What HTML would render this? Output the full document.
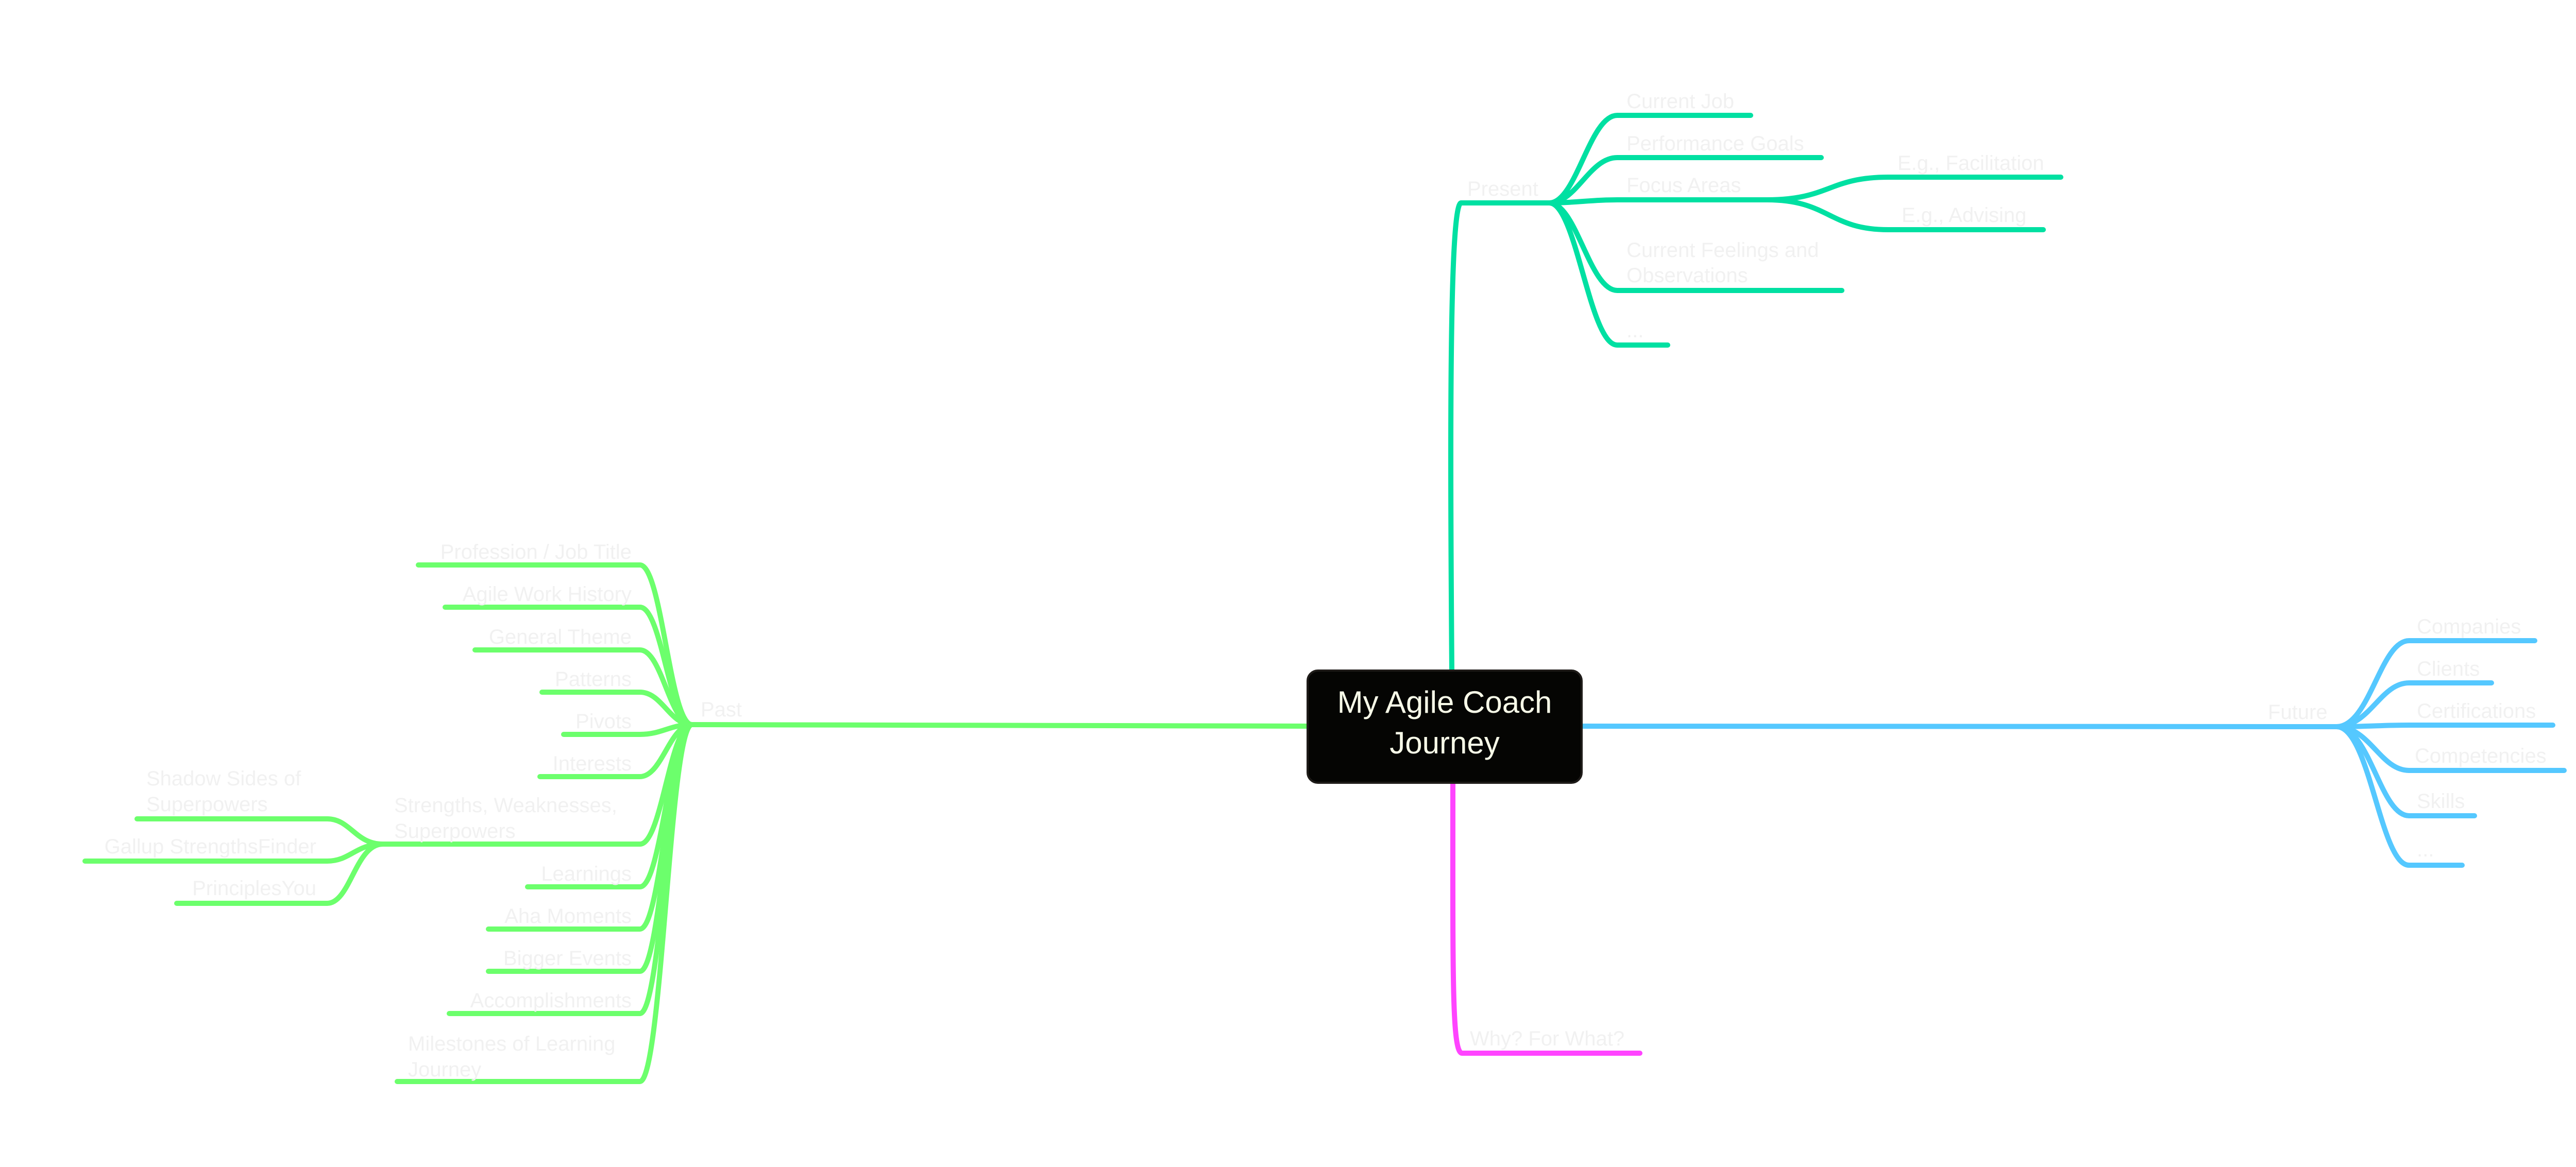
<!DOCTYPE html>
<html><head><meta charset="utf-8">
<style>
html,body{margin:0;padding:0;background:#fff;}
svg{display:block;}
text{font-family:"Liberation Sans",Arial,sans-serif;}
.l{font-size:40px;fill:#f1f1f1;}
</style></head>
<body>
<svg width="5142" height="2266" viewBox="0 0 5142 2266" xmlns="http://www.w3.org/2000/svg">
<g fill="none" stroke-linecap="round" stroke-linejoin="round">
<!-- Present (teal) -->
<g stroke="#00e0a2" stroke-width="10">
<path d="M2818 1305 C2815 900 2812 394 2836 394 L3007 394"/>
<path d="M3007 394 C3060 394 3085 224 3139 224 L3398 224"/>
<path d="M3007 394 C3060 394 3085 306 3139 306 L3535 306"/>
<path d="M3007 394 C3060 394 3085 388 3139 388 L3430 388"/>
<path d="M3007 394 C3060 394 3085 564 3139 564 L3575 564"/>
<path d="M3007 394 C3060 394 3085 670 3139 670 L3237 670"/>
<path d="M3430 388 C3550 388 3550 344 3665 344 L4000 344"/>
<path d="M3430 388 C3550 388 3550 446 3665 446 L3966 446"/>
</g>
<!-- Future (blue) -->
<g stroke="#55c8ff" stroke-width="10">
<path d="M3070 1410 L4535 1411"/>
<path d="M4535 1411 C4600 1411 4620 1244 4676 1244 L4920 1244"/>
<path d="M4535 1411 C4600 1411 4620 1326 4676 1326 L4836 1326"/>
<path d="M4535 1411 C4600 1411 4620 1408 4676 1408 L4955 1408"/>
<path d="M4535 1411 C4600 1411 4620 1496 4676 1496 L4977 1496"/>
<path d="M4535 1411 C4600 1411 4620 1584 4676 1584 L4803 1584"/>
<path d="M4535 1411 C4600 1411 4620 1680 4676 1680 L4779 1680"/>
</g>
<!-- Why (magenta) -->
<path stroke="#ff44ff" stroke-width="10" d="M2820 1515 C2820 1900 2818 2045 2838 2045 L3183 2045"/>
<!-- Past (green) -->
<g stroke="#6cff6c" stroke-width="10">
<path d="M2540 1410 L1343 1407"/>
<path d="M1343 1407 C1300 1407 1285 1097 1242 1097 L812 1097"/>
<path d="M1343 1407 C1300 1407 1285 1179 1242 1179 L864 1179"/>
<path d="M1343 1407 C1300 1407 1285 1262 1242 1262 L922 1262"/>
<path d="M1343 1407 C1300 1407 1285 1344 1242 1344 L1052 1344"/>
<path d="M1343 1407 C1300 1407 1285 1426 1242 1426 L1094 1426"/>
<path d="M1343 1407 C1300 1407 1285 1508 1242 1508 L1048 1508"/>
<path d="M1343 1407 C1300 1407 1285 1639 1242 1639 L743 1639"/>
<path d="M1343 1407 C1300 1407 1285 1722 1242 1722 L1024 1722"/>
<path d="M1343 1407 C1300 1407 1285 1804 1242 1804 L948 1804"/>
<path d="M1343 1407 C1300 1407 1285 1886 1242 1886 L948 1886"/>
<path d="M1343 1407 C1300 1407 1285 1968 1242 1968 L872 1968"/>
<path d="M1343 1407 C1300 1407 1285 2100 1242 2100 L771 2100"/>
<path d="M743 1639 C690 1639 680 1590 635 1590 L266 1590"/>
<path d="M743 1639 C690 1639 680 1672 635 1672 L165 1672"/>
<path d="M743 1639 C690 1639 680 1754 635 1754 L343 1754"/>
</g>
</g>

<!-- central node -->
<rect x="2538" y="1302" width="532" height="218" rx="20" ry="20" fill="#050503" stroke="#1e1b18" stroke-width="4"/>
<text x="2804" y="1384" text-anchor="middle" font-size="60" fill="#f8fbe8">My Agile Coach</text>
<text x="2804" y="1463" text-anchor="middle" font-size="60" fill="#f8fbe8">Journey</text>

<!-- Present labels -->
<text class="l" x="2848" y="380">Present</text>
<text class="l" x="3157" y="210">Current Job</text>
<text class="l" x="3157" y="292">Performance Goals</text>
<text class="l" x="3157" y="373">Focus Areas</text>
<text class="l" x="3157" y="499">Current Feelings and</text>
<text class="l" x="3157" y="548">Observations</text>
<text class="l" x="3157" y="655">...</text>
<text class="l" x="3683" y="330">E.g., Facilitation</text>
<text class="l" x="3691" y="431">E.g., Advising</text>

<!-- Future labels -->
<text class="l" x="4402" y="1396">Future</text>
<text class="l" x="4691" y="1230">Companies</text>
<text class="l" x="4691" y="1312">Clients</text>
<text class="l" x="4691" y="1394">Certifications</text>
<text class="l" x="4687" y="1481">Competencies</text>
<text class="l" x="4691" y="1569">Skills</text>
<text class="l" x="4691" y="1663">...</text>

<!-- Why -->
<text class="l" x="2853" y="2030">Why? For What?</text>

<!-- Past labels -->
<text class="l" x="1360" y="1391">Past</text>
<g text-anchor="end">
<text class="l" x="1226" y="1085">Profession / Job Title</text>
<text class="l" x="1226" y="1167">Agile Work History</text>
<text class="l" x="1226" y="1250">General Theme</text>
<text class="l" x="1226" y="1332">Patterns</text>
<text class="l" x="1226" y="1414">Pivots</text>
<text class="l" x="1226" y="1496">Interests</text>
<text class="l" x="1226" y="1710">Learnings</text>
<text class="l" x="1226" y="1792">Aha Moments</text>
<text class="l" x="1226" y="1874">Bigger Events</text>
<text class="l" x="1226" y="1956">Accomplishments</text>
<text class="l" x="614" y="1657">Gallup StrengthsFinder</text>
<text class="l" x="614" y="1738">PrinciplesYou</text>
</g>
<text class="l" x="765" y="1577">Strengths, Weaknesses,</text>
<text class="l" x="765" y="1627">Superpowers</text>
<text class="l" x="792" y="2040">Milestones of Learning</text>
<text class="l" x="792" y="2090">Journey</text>
<text class="l" x="284" y="1525">Shadow Sides of</text>
<text class="l" x="284" y="1575">Superpowers</text>
</svg>
</body></html>
